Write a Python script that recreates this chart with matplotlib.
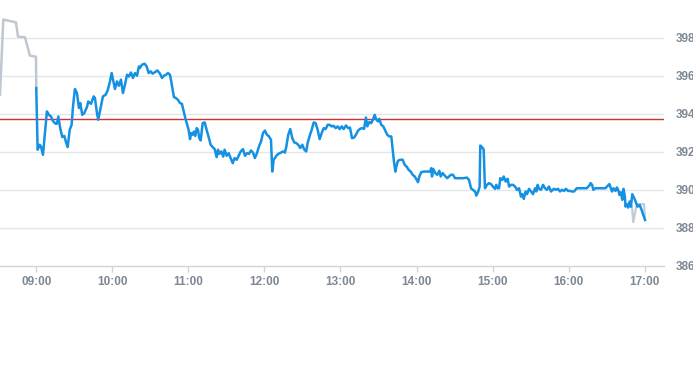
import matplotlib

matplotlib.use("Agg")
import matplotlib.pyplot as plt

# intraday prices, time in minutes after 09:00
pre_min = [-28.6, -26.0, -16.0, -14.4, -8.9, -5.0, -0.2, 0.0]
pre_px = [395.01, 398.97, 398.82, 398.07, 398.04, 397.07, 397.01, 395.36]

post_min = [470.0, 471.0, 473.7, 479.5, 480.3]
post_px = [389.11, 388.29, 389.24, 389.24, 388.41]

day_min = [
    0.0, 1.1, 2.7, 3.7, 5.3, 6.9, 8.4, 10.0, 11.6, 13.4, 15.3, 16.3, 17.4, 18.9,
    20.5, 22.1, 23.7, 24.8, 26.4, 27.9, 29.0, 30.5, 32.1, 33.7, 34.7, 36.3, 37.9,
    40.0, 41.0, 43.2, 45.3, 46.3, 47.9, 48.9, 50.5, 52.6, 54.8, 56.3, 57.9, 59.5,
    61.1, 62.1, 63.7, 65.2, 66.8, 68.4, 70.0, 71.6, 73.1, 74.7, 76.3, 77.9, 79.5,
    81.0, 81.8, 83.4, 85.5, 87.1, 88.7, 90.3, 91.8, 93.4, 95.5, 97.6, 99.2, 100.8,
    102.3, 103.9, 105.5, 106.5, 107.6, 108.6, 110.2, 111.8, 113.4, 114.9, 116.0,
    117.6, 119.1, 120.2, 121.3, 122.3, 123.4, 124.4, 125.4, 126.6, 127.6, 128.6,
    129.7, 131.3, 132.9, 134.4, 136.0, 137.6, 139.2, 140.8, 142.3, 143.4, 144.4,
    146.0, 147.5, 148.6, 150.2, 151.8, 153.4, 155.0, 156.5, 158.1, 159.7, 161.3,
    163.1, 164.7, 166.2, 167.8, 169.4, 171.0, 172.5, 174.1, 175.7, 177.3, 178.9,
    180.4, 182.0, 183.6, 185.2, 186.2, 187.3, 188.3, 189.4, 190.9, 193.1, 194.6,
    196.2, 197.3, 198.8, 200.4, 202.0, 203.6, 205.1, 206.7, 208.3, 209.9, 211.5,
    213.0, 214.1, 215.7, 217.3, 218.9, 220.4, 222.0, 223.6, 225.2, 226.8, 228.3,
    229.9, 231.5, 233.1, 234.6, 236.2, 237.8, 239.4, 241.0, 242.5, 244.4, 246.0,
    247.5, 249.1, 250.7, 252.2, 253.8, 255.4, 257.0, 258.6, 260.1, 261.2, 262.7,
    264.3, 265.9, 267.0, 268.0, 269.6, 270.6, 272.2, 273.8, 275.4, 276.9, 278.5,
    280.1, 281.2, 282.2, 283.3, 284.4, 285.4, 287.0, 289.1, 290.7, 292.2, 293.8,
    295.4, 297.0, 298.6, 300.1, 301.2, 302.2, 303.8, 305.9, 308.5, 310.7, 311.7,
    312.2, 313.2, 314.8, 316.4, 318.0, 319.1, 320.6, 322.2, 324.3, 325.6, 327.2,
    328.8, 330.4, 333.5, 336.7, 339.8, 341.4, 343.0, 344.6, 346.2, 347.2, 348.7,
    349.8, 350.3, 351.9, 353.0, 354.0, 355.6, 357.2, 358.7, 360.3, 361.9, 362.9,
    364.0, 365.1, 366.1, 367.7, 368.8, 370.4, 371.9, 373.0, 374.5, 376.1, 377.7,
    379.3, 380.9, 382.4, 383.5, 384.6, 386.1, 387.2, 388.8, 390.3, 391.9, 393.5,
    394.5, 395.6, 396.6, 398.2, 399.8, 401.4, 402.9, 404.5, 406.1, 408.4, 410.0,
    411.6, 413.2, 414.8, 416.4, 417.9, 419.5, 421.1, 422.7, 424.3, 426.4, 429.0,
    431.6, 434.3, 436.3, 437.4, 438.5, 439.5, 441.1, 443.8, 446.4, 449.0, 451.1,
    452.2, 453.3, 454.3, 455.4, 457.0, 458.1, 459.1, 460.2, 461.3, 462.3, 463.3,
    464.4, 464.9, 466.0, 467.0, 468.1, 469.2, 470.2, 471.8, 473.4, 474.4, 476.0,
    477.6, 478.7, 480.3,
]
day_px = [
    395.36, 392.11, 392.37, 392.28, 391.84, 392.99, 394.13, 393.95, 393.86, 393.60,
    393.48, 393.48, 393.86, 393.25, 392.78, 392.84, 392.46, 392.25, 393.16, 393.42,
    394.39, 395.31, 395.10, 394.31, 394.57, 393.95, 394.04, 394.36, 394.65, 394.53,
    394.92, 394.83, 394.04, 393.69, 394.22, 394.92, 395.01, 395.23, 395.63, 396.15,
    395.63, 395.31, 395.71, 395.48, 395.80, 395.10, 395.54, 396.06, 395.97, 396.18,
    395.89, 396.15, 396.01, 396.50, 396.42, 396.59, 396.64, 396.50, 396.15, 396.24,
    396.12, 396.18, 396.29, 396.12, 395.89, 396.01, 396.06, 396.15, 396.06, 395.71,
    395.27, 394.89, 394.83, 394.74, 394.57, 394.53, 394.22, 393.78, 393.42, 393.16,
    392.67, 392.99, 392.90, 393.07, 392.84, 393.25, 393.16, 392.72, 392.60, 393.51,
    393.55, 393.16, 392.78, 392.37, 392.25, 392.14, 391.72, 392.11, 391.89, 392.02,
    391.75, 392.11, 391.79, 391.93, 391.67, 391.40, 391.67, 391.58, 391.79, 392.02,
    392.14, 391.79, 391.93, 391.89, 392.07, 391.96, 391.67, 391.93, 392.28, 392.54,
    392.99, 393.12, 392.90, 392.81, 392.63, 390.96, 391.58, 391.67, 391.79, 391.89,
    391.96, 392.02, 391.96, 392.28, 392.90, 393.20, 392.72, 392.49, 392.46, 392.37,
    392.20, 392.37, 392.11, 392.02, 392.46, 392.84, 393.16, 393.55, 393.51, 393.16,
    392.67, 392.99, 393.25, 393.20, 393.42, 393.42, 393.34, 393.37, 393.25, 393.34,
    393.20, 393.34, 393.20, 393.39, 393.25, 393.28, 392.72, 392.75, 392.90, 393.11,
    393.21, 393.25, 393.21, 393.81, 393.34, 393.57, 393.51, 393.74, 393.95, 393.74,
    393.60, 393.74, 393.42, 393.34, 393.11, 392.90, 392.81, 392.81, 392.11, 391.49,
    390.96, 391.31, 391.53, 391.58, 391.58, 391.31, 391.22, 391.05, 390.96, 390.79,
    390.70, 390.52, 390.40, 390.70, 390.93, 390.96, 390.96, 390.96, 391.14, 390.70,
    391.10, 390.88, 390.79, 391.00, 390.70, 390.88, 390.75, 390.61, 390.70, 390.79,
    390.79, 390.61, 390.61, 390.61, 390.64, 390.52, 390.08, 389.99, 389.91, 389.69,
    389.91, 390.17, 392.33, 392.23, 392.11, 390.08, 390.26, 390.35, 390.30, 390.17,
    390.05, 390.26, 390.08, 390.08, 390.61, 390.52, 390.70, 390.43, 390.58, 390.17,
    390.26, 390.26, 390.17, 389.99, 390.08, 389.64, 389.77, 389.52, 389.91, 389.77,
    390.05, 389.91, 389.77, 390.08, 389.91, 390.26, 390.05, 390.00, 390.26, 390.08,
    390.00, 390.17, 389.91, 390.05, 390.00, 390.05, 389.91, 390.00, 389.94, 390.05,
    389.94, 389.94, 389.91, 389.91, 390.08, 390.08, 390.08, 390.08, 390.22, 390.35,
    390.26, 390.00, 390.08, 390.08, 390.08, 390.08, 390.22, 390.30, 390.08, 389.91,
    390.08, 389.94, 390.12, 390.00, 389.73, 389.87, 389.47, 390.05, 389.64, 389.11,
    389.24, 389.06, 389.38, 389.11, 389.77, 389.56, 389.29, 389.11, 389.20, 388.94,
    388.71, 388.41,
]

prev_close = 393.74

hour_ticks = [0, 60, 120, 180, 240, 300, 360, 420, 480]
hour_labels = ["09:00", "10:00", "11:00", "12:00", "13:00",
               "14:00", "15:00", "16:00", "17:00"]
price_ticks = [386, 388, 390, 392, 394, 396, 398]

LABEL_COLOR = "#7d8894"

fig = plt.figure(figsize=(6.93, 3.65), dpi=100)
ax = fig.add_axes([0.0, 0.2721, 0.9577, 0.7279])

for y in price_ticks[1:]:
    ax.axhline(y, color="#e3e6ea", lw=1.0, zorder=1)
ax.axhline(prev_close, color="#d0302f", lw=1.0, zorder=2)

ax.plot(pre_min, pre_px, color="#bfc8d0", lw=1.8, zorder=3, solid_joinstyle="round")
ax.plot(post_min, post_px, color="#c3ccd4", lw=1.6, zorder=3, solid_joinstyle="round")
ax.plot(day_min, day_px, color="#1591e3", lw=1.8, zorder=4, solid_joinstyle="round")

ax.set_xlim(pre_min[0], 495)
ax.set_ylim(386, 400)

ax.set_xticks(hour_ticks)
ax.set_xticklabels(hour_labels)
ax.set_yticks(price_ticks)
ax.set_yticklabels([str(p) for p in price_ticks])
ax.yaxis.tick_right()

ax.tick_params(axis="x", length=4, width=1, color="#ccd4dc", pad=3.5,
               labelsize=8.5, labelcolor=LABEL_COLOR)
ax.tick_params(axis="y", length=0, pad=9, labelsize=8.5, labelcolor=LABEL_COLOR)
for lab in ax.get_xticklabels() + ax.get_yticklabels():
    lab.set_fontfamily("Liberation Sans")
    lab.set_fontweight("bold")

for side in ("top", "left", "right"):
    ax.spines[side].set_visible(False)
ax.spines["bottom"].set_color("#ccd4dc")
ax.spines["bottom"].set_linewidth(1.0)

fig.savefig("out.png", dpi=100)
plt.close(fig)
